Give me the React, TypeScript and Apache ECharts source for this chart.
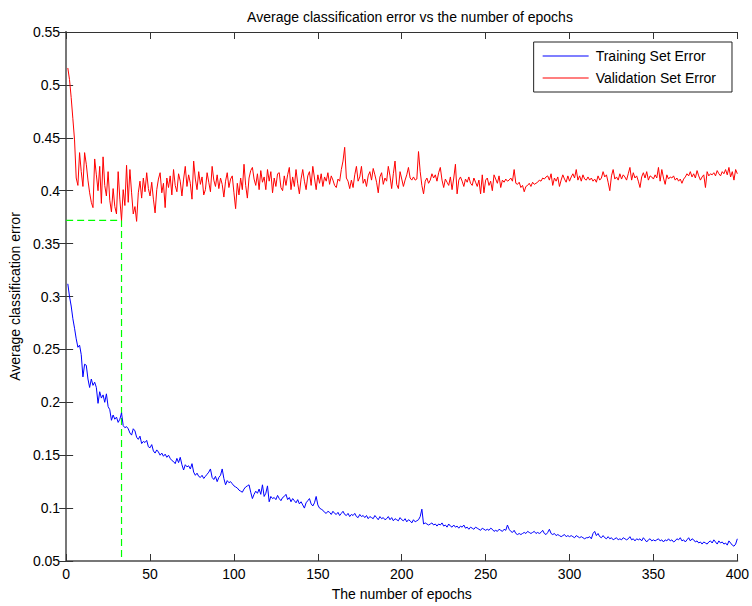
import React, { useEffect, useRef } from "react";
import * as echarts from "echarts";

const TITLE = "Average classification error vs the number of epochs";
const X_NAME = "The number of epochs";
const Y_NAME = "Average classification error";
const SERIES_NAMES = ["Training Set Error", "Validation Set Error"];

// Validation set error, epochs 1..400
const validationError = [
  0.516, 0.505, 0.488, 0.468, 0.448, 0.412, 0.405, 0.436, 0.418, 0.404,
  0.436, 0.425, 0.410, 0.398, 0.389, 0.384, 0.430, 0.415, 0.400, 0.423,
  0.388, 0.432, 0.405, 0.395, 0.418, 0.391, 0.380, 0.402, 0.385, 0.378,
  0.418, 0.392, 0.372, 0.401, 0.386, 0.424, 0.389, 0.420, 0.398, 0.378,
  0.385, 0.371, 0.398, 0.409, 0.393, 0.412, 0.399, 0.417, 0.402, 0.395,
  0.408, 0.392, 0.379, 0.401, 0.411, 0.417, 0.398, 0.407, 0.384, 0.412,
  0.403, 0.414, 0.396, 0.420, 0.405, 0.399, 0.416, 0.409, 0.395, 0.411,
  0.423, 0.404, 0.415, 0.407, 0.392, 0.428, 0.411, 0.401, 0.418, 0.406,
  0.413, 0.396, 0.401, 0.417, 0.408, 0.399, 0.423, 0.410, 0.404, 0.415,
  0.402, 0.412, 0.406, 0.394, 0.409, 0.417, 0.403, 0.411, 0.414, 0.398,
  0.383, 0.407, 0.396, 0.412, 0.401, 0.425, 0.405, 0.393, 0.412, 0.419,
  0.422, 0.411, 0.405, 0.416, 0.401, 0.419, 0.408, 0.413, 0.401, 0.420,
  0.409, 0.418, 0.398, 0.412, 0.404, 0.416, 0.417, 0.403, 0.400, 0.414,
  0.405, 0.415, 0.422, 0.401, 0.413, 0.404, 0.420, 0.407, 0.397, 0.411,
  0.420, 0.409, 0.401, 0.414, 0.418, 0.405, 0.423, 0.412, 0.401, 0.415,
  0.407, 0.416, 0.404, 0.413, 0.409, 0.417, 0.406, 0.414, 0.410, 0.405,
  0.403, 0.411, 0.409, 0.420, 0.428, 0.441, 0.412, 0.409, 0.402, 0.410,
  0.403, 0.415, 0.423, 0.409, 0.413, 0.423, 0.407, 0.411, 0.404, 0.414,
  0.418, 0.410, 0.421, 0.415, 0.408, 0.398, 0.413, 0.417, 0.406, 0.412,
  0.409, 0.423, 0.414, 0.402, 0.416, 0.428, 0.406, 0.402, 0.418, 0.411,
  0.404, 0.410, 0.415, 0.422, 0.412, 0.410, 0.413, 0.410, 0.411, 0.437,
  0.418, 0.405, 0.397, 0.409, 0.412, 0.407, 0.410, 0.416, 0.412, 0.415,
  0.409, 0.417, 0.422, 0.410, 0.403, 0.411, 0.408, 0.405, 0.413, 0.401,
  0.412, 0.425, 0.397, 0.410, 0.413, 0.409, 0.404, 0.411, 0.408, 0.413,
  0.407, 0.405, 0.412, 0.408, 0.404, 0.410, 0.397, 0.415, 0.398, 0.410,
  0.412, 0.405, 0.409, 0.400, 0.415, 0.411, 0.407, 0.414, 0.403, 0.410,
  0.408, 0.411, 0.409, 0.410, 0.412, 0.409, 0.420, 0.407, 0.406, 0.408,
  0.403, 0.405, 0.399, 0.404, 0.405, 0.407, 0.404, 0.408, 0.406, 0.407,
  0.408, 0.410, 0.409, 0.412, 0.411, 0.413, 0.414, 0.410, 0.416, 0.405,
  0.412, 0.409, 0.413, 0.404, 0.410, 0.415, 0.411, 0.408, 0.414, 0.409,
  0.413, 0.416, 0.412, 0.420, 0.410, 0.414, 0.409, 0.415, 0.411, 0.410,
  0.413, 0.410, 0.412, 0.409, 0.411, 0.408, 0.414, 0.410, 0.412, 0.418,
  0.413, 0.415, 0.408, 0.400, 0.414, 0.420, 0.411, 0.413, 0.410, 0.416,
  0.411, 0.415, 0.413, 0.410, 0.416, 0.422, 0.410, 0.417, 0.412, 0.414,
  0.409, 0.403, 0.413, 0.417, 0.412, 0.418, 0.410, 0.414, 0.413, 0.411,
  0.415, 0.412, 0.422, 0.409, 0.420, 0.412, 0.406, 0.415, 0.411, 0.413,
  0.412, 0.414, 0.410, 0.412, 0.409, 0.411, 0.407, 0.411, 0.413, 0.416,
  0.414, 0.418, 0.413, 0.416, 0.412, 0.419, 0.414, 0.410, 0.413, 0.415,
  0.403, 0.418, 0.414, 0.416, 0.415, 0.417, 0.414, 0.419, 0.416, 0.414,
  0.418, 0.416, 0.420, 0.415, 0.422, 0.413, 0.418, 0.410, 0.420, 0.416,
];

// Training set error, epochs 1..400
const trainingError = [
  0.312, 0.300, 0.291, 0.279, 0.270, 0.260, 0.252, 0.254, 0.245, 0.224,
  0.236, 0.235, 0.222, 0.214, 0.222, 0.216, 0.219, 0.214, 0.199, 0.210,
  0.204, 0.207, 0.200, 0.208, 0.196, 0.193, 0.183, 0.188, 0.184, 0.186,
  0.181, 0.184, 0.190, 0.178, 0.176, 0.177, 0.175, 0.171, 0.169, 0.175,
  0.173, 0.167, 0.165, 0.168, 0.161, 0.163, 0.162, 0.164, 0.158, 0.157,
  0.160, 0.154, 0.152, 0.155, 0.153, 0.150, 0.152, 0.149, 0.151, 0.148,
  0.150, 0.147, 0.145, 0.144, 0.142, 0.147, 0.143, 0.148, 0.141, 0.136,
  0.141, 0.139, 0.140, 0.137, 0.142, 0.134, 0.131, 0.133, 0.130, 0.129,
  0.131, 0.128, 0.130, 0.132, 0.134, 0.137, 0.129, 0.127, 0.130, 0.125,
  0.129, 0.131, 0.137, 0.128, 0.122, 0.126, 0.124, 0.125, 0.123, 0.121,
  0.120, 0.119, 0.117, 0.116, 0.115, 0.118, 0.120, 0.121, 0.122, 0.115,
  0.109, 0.113, 0.116, 0.114, 0.118, 0.113, 0.122, 0.111, 0.114, 0.121,
  0.106, 0.111, 0.109, 0.110, 0.108, 0.112, 0.109, 0.107, 0.110, 0.111,
  0.113, 0.108, 0.110, 0.106, 0.109, 0.107, 0.105, 0.108, 0.104, 0.106,
  0.103, 0.100, 0.105, 0.107, 0.109, 0.104, 0.102, 0.105, 0.111, 0.103,
  0.100, 0.099, 0.098, 0.096, 0.095, 0.097, 0.096, 0.094, 0.097, 0.095,
  0.094, 0.096, 0.093, 0.095, 0.097, 0.094, 0.093, 0.095, 0.092, 0.094,
  0.093, 0.095, 0.092, 0.091, 0.094, 0.092, 0.093, 0.091, 0.093, 0.090,
  0.092, 0.091, 0.090, 0.093, 0.091, 0.089, 0.092, 0.090, 0.091, 0.089,
  0.090, 0.092, 0.089, 0.091, 0.088, 0.090, 0.089, 0.088, 0.091, 0.089,
  0.088, 0.090, 0.087, 0.089, 0.088, 0.086, 0.089, 0.087, 0.088, 0.089,
  0.092, 0.099, 0.085, 0.086, 0.085, 0.084, 0.085, 0.086, 0.084, 0.085,
  0.083, 0.085, 0.084, 0.086, 0.083, 0.084, 0.082, 0.085, 0.083, 0.082,
  0.084, 0.082, 0.083, 0.081, 0.083, 0.082, 0.084, 0.081, 0.082, 0.080,
  0.082, 0.081, 0.080, 0.082, 0.081, 0.080, 0.079, 0.081, 0.080, 0.079,
  0.080, 0.079, 0.081, 0.080, 0.078, 0.079, 0.078, 0.080, 0.079, 0.078,
  0.080, 0.079, 0.084, 0.080, 0.078, 0.077, 0.079, 0.076, 0.075, 0.076,
  0.075, 0.076, 0.077, 0.076, 0.078, 0.077, 0.076, 0.077, 0.078, 0.076,
  0.077, 0.076, 0.077, 0.079, 0.076, 0.075, 0.077, 0.080, 0.076, 0.075,
  0.076, 0.074, 0.075, 0.074, 0.073, 0.074, 0.075, 0.073, 0.074, 0.073,
  0.074, 0.073, 0.072, 0.074, 0.073, 0.072, 0.073, 0.072, 0.071, 0.072,
  0.072, 0.073, 0.071, 0.076, 0.078, 0.074, 0.076, 0.073, 0.072, 0.074,
  0.072, 0.071, 0.073, 0.071, 0.072, 0.070, 0.071, 0.072, 0.070, 0.071,
  0.070, 0.072, 0.071, 0.070, 0.071, 0.073, 0.070, 0.071, 0.069, 0.071,
  0.070, 0.071, 0.069, 0.072, 0.070, 0.068, 0.070, 0.071, 0.069, 0.070,
  0.069, 0.070, 0.071, 0.069, 0.070, 0.068, 0.070, 0.069, 0.071, 0.069,
  0.070, 0.068, 0.069, 0.071, 0.070, 0.072, 0.069, 0.070, 0.068, 0.070,
  0.072, 0.069, 0.071, 0.070, 0.068, 0.069, 0.067, 0.068, 0.066, 0.068,
  0.067, 0.066, 0.068, 0.069, 0.067, 0.070, 0.068, 0.066, 0.069, 0.067,
  0.068, 0.066, 0.067, 0.065, 0.069, 0.067, 0.065, 0.064, 0.066, 0.071,
];

// Early-stopping marker: epoch and validation error at the minimum
const stopEpoch = [33];
const stopError = [0.372];

const FONT = "'Liberation Sans', Arial, Helvetica, sans-serif";

export default function App() {
  const ref = useRef<HTMLDivElement>(null);

  useEffect(() => {
    if (!ref.current) return;
    const chart = echarts.init(ref.current, undefined, { renderer: "svg" });

    const trainData = trainingError.map((v, i) => [i + 1, v]);
    const valData = validationError.map((v, i) => [i + 1, v]);
    const markerData = [
      [0, stopError[0]],
      [stopEpoch[0], stopError[0]],
      [stopEpoch[0], 0.05],
    ];

    const axisColor = "#777";
    const labelStyle = { color: "#000", fontSize: 14, fontFamily: FONT };

    chart.setOption({
      animation: false,
      backgroundColor: "#fff",
      textStyle: { fontFamily: FONT },
      title: {
        text: TITLE,
        left: 405,
        top: 5,
        textAlign: "center",
        textStyle: { color: "#000", fontSize: 14, fontWeight: "normal", fontFamily: FONT },
      },
      grid: { left: 66, right: 12, top: 32, bottom: 43, containLabel: false },
      legend: {
        orient: "vertical",
        right: 20,
        top: 42,
        data: SERIES_NAMES.map((n) => ({ name: n, icon: "rect" })),
        itemWidth: 46,
        itemHeight: 1,
        itemGap: 6,
        padding: [6, 16, 6, 9],
        borderColor: "#222",
        borderWidth: 1,
        backgroundColor: "#fff",
        textStyle: { color: "#000", fontSize: 14, fontFamily: FONT, lineHeight: 16, padding: [0, 0, 0, 2] },
      },
      xAxis: [
        {
          type: "value",
          min: 0,
          max: 400,
          interval: 50,
          name: X_NAME,
          nameLocation: "middle",
          nameGap: 26,
          nameTextStyle: { color: "#000", fontSize: 14, fontFamily: FONT },
          axisLine: { show: true, lineStyle: { color: axisColor, width: 2 } },
          axisTick: { show: true, inside: true, length: 7, lineStyle: { color: "#333" } },
          axisLabel: { ...labelStyle, margin: 6 },
          splitLine: { show: false },
        },
        {
          type: "value",
          position: "top",
          min: 0,
          max: 400,
          interval: 50,
          axisLine: { show: true, lineStyle: { color: "#333", width: 1 } },
          axisTick: { show: true, inside: true, length: 7, lineStyle: { color: "#333" } },
          axisLabel: { show: false },
          splitLine: { show: false },
        },
      ],
      yAxis: [
        {
          type: "value",
          min: 0.05,
          max: 0.55,
          interval: 0.05,
          name: Y_NAME,
          nameLocation: "middle",
          nameGap: 41,
          nameRotate: 90,
          nameTextStyle: { color: "#000", fontSize: 14, fontFamily: FONT },
          axisLine: { show: true, lineStyle: { color: axisColor, width: 2 } },
          axisTick: { show: true, inside: true, length: 7, lineStyle: { color: "#333" } },
          axisLabel: { ...labelStyle, margin: 6 },
          splitLine: { show: false },
        },
        {
          type: "value",
          position: "right",
          min: 0.05,
          max: 0.55,
          interval: 0.05,
          axisLine: { show: true, lineStyle: { color: axisColor, width: 2 } },
          axisTick: { show: true, inside: true, length: 7, lineStyle: { color: "#333" } },
          axisLabel: { show: false },
          splitLine: { show: false },
        },
      ],
      series: [
        {
          name: SERIES_NAMES[0],
          type: "line",
          data: trainData,
          symbol: "none",
          lineStyle: { color: "#0000ff", width: 1 },
          itemStyle: { color: "#0000ff" },
        },
        {
          name: SERIES_NAMES[1],
          type: "line",
          data: valData,
          symbol: "none",
          lineStyle: { color: "#ff0000", width: 1 },
          itemStyle: { color: "#ff0000" },
        },
        {
          name: "marker",
          type: "line",
          data: markerData,
          symbol: "none",
          silent: true,
          lineStyle: { color: "#00ff00", width: 1.2, type: [7, 4] },
          itemStyle: { color: "#00ff00" },
          z: 1,
        },
      ],
    });

    return () => chart.dispose();
  }, []);

  return (
    <div
      ref={ref}
      style={{ position: "fixed", left: 0, top: 0, width: 752, height: 606 }}
    />
  );
}
